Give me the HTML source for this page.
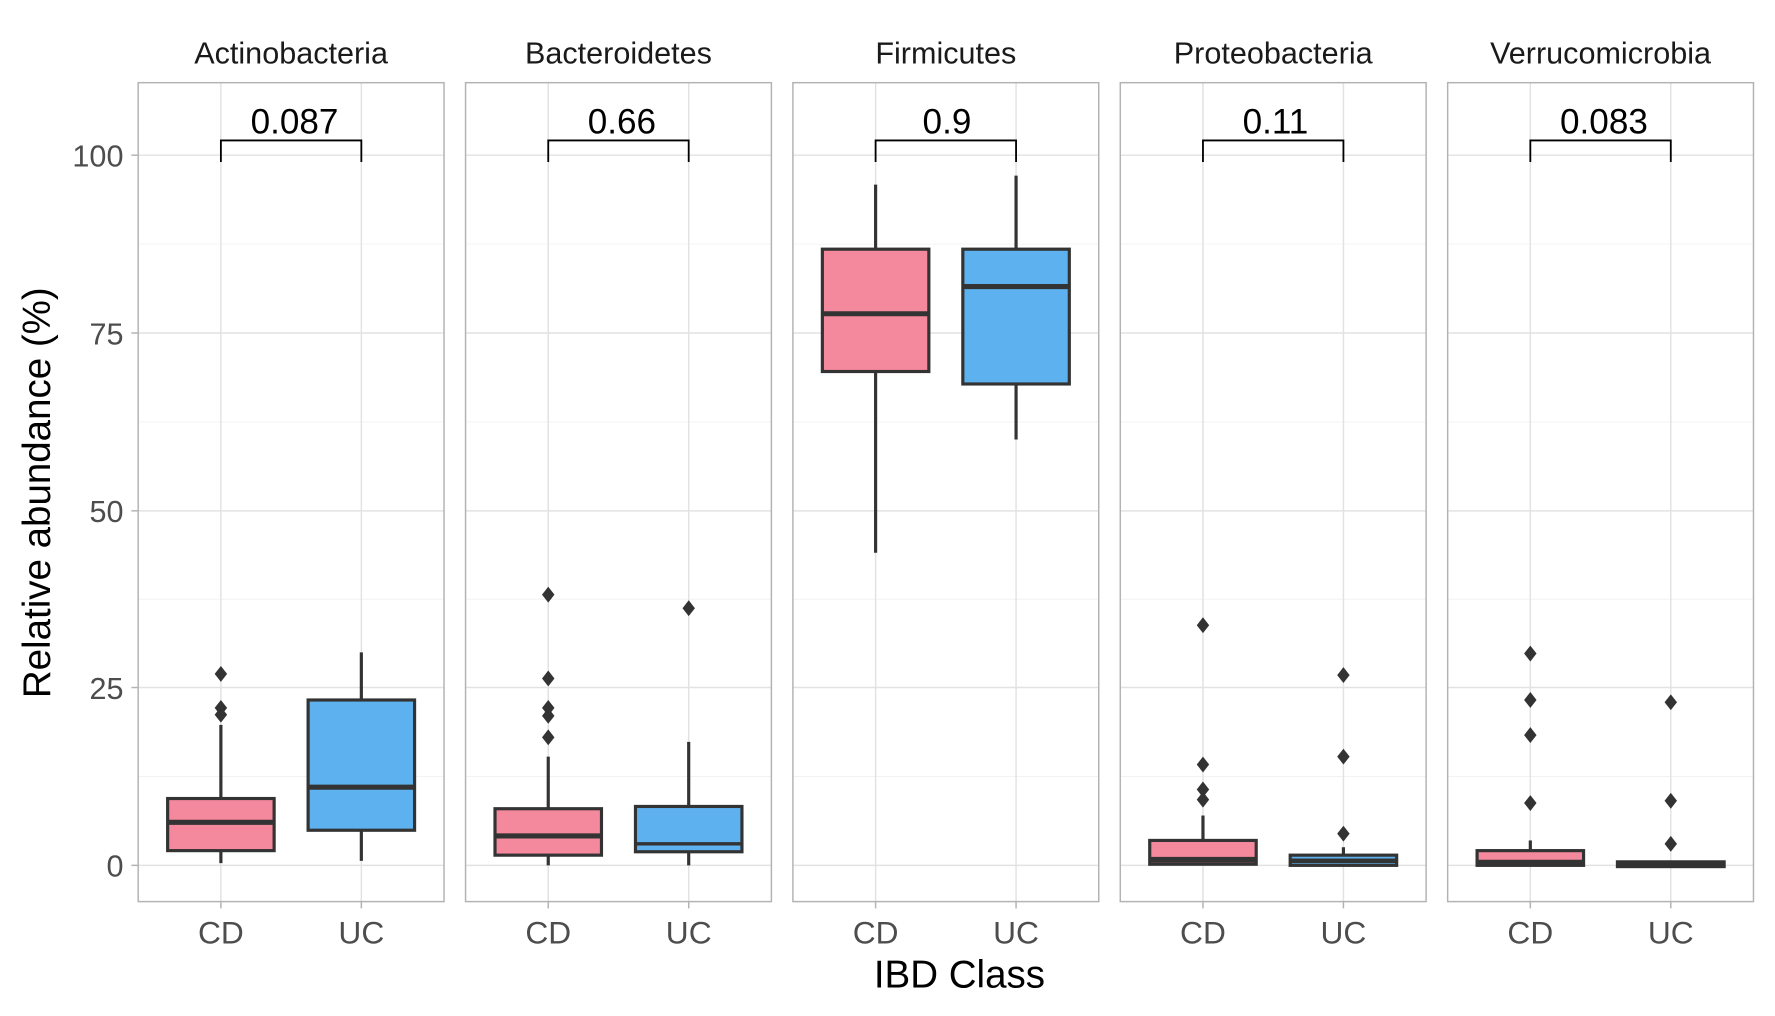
<!DOCTYPE html>
<html><head><meta charset="utf-8"><style>html,body{margin:0;padding:0;background:#fff}svg{display:block}</style></head>
<body>
<svg width="1775" height="1016" viewBox="0 0 1567 897" preserveAspectRatio="none" xmlns="http://www.w3.org/2000/svg" font-family="Liberation Sans, sans-serif">
<defs>
<g id="grid">
<rect x="0" y="73" width="270" height="723" fill="#fff"/>
<g stroke="#f0f0f0" stroke-width="0.7">
<line x1="0" x2="270" y1="215.5" y2="215.5"/><line x1="0" x2="270" y1="372.5" y2="372.5"/><line x1="0" x2="270" y1="529" y2="529"/><line x1="0" x2="270" y1="685.5" y2="685.5"/>
</g>
<g stroke="#e2e2e2" stroke-width="1.3">
<line x1="0" x2="270" y1="137" y2="137"/><line x1="0" x2="270" y1="294" y2="294"/><line x1="0" x2="270" y1="451" y2="451"/><line x1="0" x2="270" y1="607" y2="607"/><line x1="0" x2="270" y1="764" y2="764"/>
<line x1="73" x2="73" y1="73" y2="796"/><line x1="197" x2="197" y1="73" y2="796"/>
</g>
<g stroke="#b3b3b3" stroke-width="1.3"><line x1="73" x2="73" y1="796" y2="802"/><line x1="197" x2="197" y1="796" y2="802"/></g>
<path d="M73,143 V124 H197 V143" fill="none" stroke="#000" stroke-width="1.6"/>
<text x="73" y="833" font-size="28" fill="#4d4d4d" text-anchor="middle">CD</text>
<text x="197" y="833" font-size="28" fill="#4d4d4d" text-anchor="middle">UC</text>
</g>
<path id="d" d="M0,-7 L5.5,0 L0,7 L-5.5,0Z" fill="#333"/>
</defs>

<use href="#grid" x="122"/><use href="#grid" x="411"/><use href="#grid" x="700"/><use href="#grid" x="989"/><use href="#grid" x="1278"/>

<g font-size="27" fill="#1a1a1a" text-anchor="middle">
<text x="257" y="56">Actinobacteria</text>
<text x="546" y="56">Bacteroidetes</text>
<text x="835" y="56">Firmicutes</text>
<text x="1124" y="56">Proteobacteria</text>
<text x="1413" y="56">Verrucomicrobia</text>
</g>
<g font-size="31" fill="#000" text-anchor="middle">
<text x="260" y="118">0.087</text>
<text x="549" y="118">0.66</text>
<text x="836" y="118">0.9</text>
<text x="1126" y="118">0.11</text>
<text x="1416" y="118">0.083</text>
</g>

<g stroke="#b3b3b3" stroke-width="1.3">
<line x1="116" x2="122" y1="137" y2="137"/><line x1="116" x2="122" y1="294" y2="294"/><line x1="116" x2="122" y1="451" y2="451"/><line x1="116" x2="122" y1="607" y2="607"/><line x1="116" x2="122" y1="764" y2="764"/>
</g>
<g font-size="27" fill="#4d4d4d" text-anchor="end">
<text x="109" y="147">100</text><text x="109" y="304">75</text><text x="109" y="461">50</text><text x="109" y="617">25</text><text x="109" y="774">0</text>
</g>
<text x="0" y="0" font-size="34" fill="#000" text-anchor="middle" transform="translate(44,435) rotate(-90)">Relative abundance (%)</text>
<text x="847" y="872" font-size="34" fill="#000" text-anchor="middle">IBD Class</text>

<g stroke="#333" stroke-width="2.8" fill="none">
<line x1="195" x2="195" y1="640" y2="762"/><rect x="148" y="705" width="94" height="46" fill="#F4899E"/><line x1="148" x2="242" y1="726" y2="726" stroke-width="4.5"/>
<line x1="319" x2="319" y1="576" y2="760"/><rect x="272" y="618" width="94" height="115" fill="#5DB1EE"/><line x1="272" x2="366" y1="695" y2="695" stroke-width="4.5"/>
<line x1="484" x2="484" y1="668" y2="764"/><rect x="437" y="714" width="94" height="41" fill="#F4899E"/><line x1="437" x2="531" y1="738" y2="738" stroke-width="4.5"/>
<line x1="608" x2="608" y1="655" y2="764"/><rect x="561" y="712" width="94" height="40" fill="#5DB1EE"/><line x1="561" x2="655" y1="745" y2="745" stroke-width="3"/>
<line x1="773" x2="773" y1="163" y2="488"/><rect x="726" y="220" width="94" height="108" fill="#F4899E"/><line x1="726" x2="820" y1="277" y2="277" stroke-width="4.5"/>
<line x1="897" x2="897" y1="155" y2="388"/><rect x="850" y="220" width="94" height="119" fill="#5DB1EE"/><line x1="850" x2="944" y1="253" y2="253" stroke-width="4.5"/>
<line x1="1062" x2="1062" y1="720" y2="762"/><rect x="1015" y="742" width="94" height="21" fill="#F4899E"/><line x1="1015" x2="1109" y1="759" y2="759" stroke-width="5"/>
<line x1="1186" x2="1186" y1="748" y2="764"/><rect x="1139" y="755" width="94" height="9" fill="#5DB1EE"/><line x1="1139" x2="1233" y1="760" y2="760" stroke-width="4"/>
<line x1="1351" x2="1351" y1="742" y2="764"/><rect x="1304" y="751" width="94" height="13" fill="#F4899E"/><line x1="1304" x2="1398" y1="761" y2="761" stroke-width="4"/>
<rect x="1428" y="761" width="94" height="4" fill="#333" stroke-width="3"/>
</g>

<use href="#d" x="195" y="595"/><use href="#d" x="195" y="625"/><use href="#d" x="195" y="631"/>
<use href="#d" x="484" y="525"/><use href="#d" x="484" y="599"/><use href="#d" x="484" y="625"/><use href="#d" x="484" y="632"/><use href="#d" x="484" y="651"/>
<use href="#d" x="608" y="537"/>
<use href="#d" x="1062" y="552"/><use href="#d" x="1062" y="675"/><use href="#d" x="1062" y="697"/><use href="#d" x="1062" y="706"/>
<use href="#d" x="1186" y="596"/><use href="#d" x="1186" y="668"/><use href="#d" x="1186" y="736"/>
<use href="#d" x="1351" y="577"/><use href="#d" x="1351" y="618"/><use href="#d" x="1351" y="649"/><use href="#d" x="1351" y="709"/>
<use href="#d" x="1475" y="620"/><use href="#d" x="1475" y="707"/><use href="#d" x="1475" y="745"/>

<g fill="none" stroke="#b3b3b3" stroke-width="1.3">
<rect x="122" y="73" width="270" height="723"/><rect x="411" y="73" width="270" height="723"/><rect x="700" y="73" width="270" height="723"/><rect x="989" y="73" width="270" height="723"/><rect x="1278" y="73" width="270" height="723"/>
</g>
</svg>
</body></html>
